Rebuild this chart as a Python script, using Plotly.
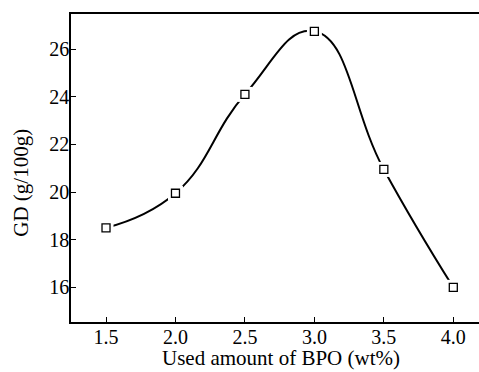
import plotly.graph_objects as go

bpo = [1.5, 2.0, 2.5, 3.0, 3.5, 4.0]
gd = [18.5, 19.95, 24.1, 26.75, 20.95, 16.0]

x_ticks = [1.5, 2.0, 2.5, 3.0, 3.5, 4.0]
x_ticktext = ["1.5", "2.0", "2.5", "3.0", "3.5", "4.0"]
y_ticks = [16, 18, 20, 22, 24, 26]

x_title = "Used amount of BPO (wt%)"
y_title = "GD (g/100g)"

FONT = "Liberation Serif"

fig = go.Figure()
fig.add_trace(go.Scatter(x=bpo, y=gd, mode="lines",
                         line=dict(color="black", width=2, shape="spline", smoothing=1.3),
                         hoverinfo="skip", showlegend=False))
fig.add_trace(go.Scatter(x=bpo, y=gd, mode="markers",
                         marker=dict(symbol="square", size=15, color="white", line=dict(width=0)),
                         hoverinfo="skip", showlegend=False))
fig.add_trace(go.Scatter(x=bpo, y=gd, mode="markers",
                         marker=dict(symbol="square", size=8, color="white",
                                     line=dict(color="black", width=1.3)),
                         showlegend=False))

fig.update_layout(
    width=479, height=372,
    margin=dict(l=71, r=0, t=13.5, b=50),
    paper_bgcolor="white", plot_bgcolor="white",
    font=dict(family=FONT, size=20, color="black"),
    xaxis=dict(range=[1.248, 4.185], tickvals=x_ticks, ticktext=x_ticktext,
               ticks="inside", ticklen=5, tickwidth=1, tickcolor="black",
               ticklabelstandoff=-4,
               showline=True, linecolor="black", linewidth=1.5, mirror=True,
               showgrid=False, zeroline=False, automargin=False),
    yaxis=dict(range=[14.545, 27.476], tickvals=y_ticks,
               ticks="inside", ticklen=5, tickwidth=1, tickcolor="black",
               ticklabelstandoff=-4,
               showline=True, linecolor="black", linewidth=1.5, mirror=False,
               showgrid=False, zeroline=False, automargin=False),
    annotations=[
        dict(text=x_title, xref="paper", yref="paper", x=0.5147, y=0.0,
             xanchor="center", yanchor="bottom", yshift=-50, showarrow=False,
             font=dict(family=FONT, size=21, color="black")),
        dict(text=y_title, xref="paper", yref="paper", x=-0.1213, y=0.4506,
             xanchor="center", yanchor="middle", showarrow=False, textangle=-90,
             font=dict(family=FONT, size=21, color="black")),
    ],
)

fig.write_html("out.html",
               config={"displayModeBar": False},
               post_script="document.body.style.margin='0';document.body.style.overflow='hidden';")
